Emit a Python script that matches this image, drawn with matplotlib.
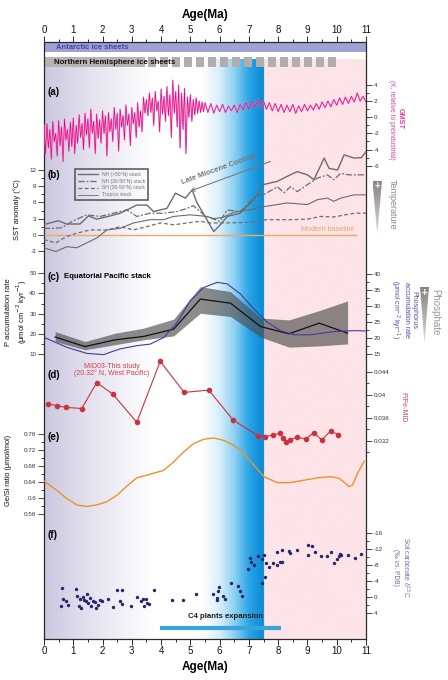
import numpy as np
import matplotlib.pyplot as plt
from matplotlib.patches import Rectangle, Polygon
from matplotlib.lines import Line2D
from matplotlib.colors import to_rgb

plt.rcParams['font.family'] = ['Liberation Sans', 'DejaVu Sans']
plt.rcParams['axes.unicode_minus'] = False

# ---------------- data ----------------
# (a) GMST, K relative to preindustrial
gmst_age = np.concatenate([np.arange(0, 5.501, 0.05), np.arange(5.6, 11.001, 0.1)])
gmst = [-1.0, -4.5, -0.8, -3.8, -1.5, -5.2, -0.5, -3.0, -2.0, -4.8,
        -0.4, -3.5, -1.2, -5.5, -0.2, -2.8, -1.5, -4.2, -0.6, -3.6,
        -0.1, -4.5, -1.0, -3.2, 0.3, -2.5, -0.8, -4.0, 0.5, -2.2,
        -0.2, -3.8, 1.0, -2.0, -0.5, -4.5, 0.4, -2.6, -0.3, -3.2,
        0.8, -2.0, 0.2, -4.8, 0.6, -1.8, -0.2, -3.0, 1.2, -1.5,
        0.5, -4.2, 1.0, -1.2, 0.2, -2.8, 1.5, -1.0, 0.4, -3.5,
        1.2, -0.8, 0.6, -2.5, 1.8, -1.2, 0.8, -1.8, 2.5, 0.5,
        2.2, 0.2, 3.0, 0.6, 2.4, -1.0, 3.2, 0.8, 2.0, -1.8,
        3.5, 0.4, 2.6, -0.5, 3.8, 0.2, 2.8, -2.5, 4.6, 0.5,
        3.2, -1.2, 4.0, -3.8, 3.0, -1.5, 3.6, -4.5, 2.5, 0.0,
        2.8, -0.5, 2.2, 0.3, 2.4, 0.5, 2.0, 0.6, 1.9, 0.7,
        1.8,
        0.6, 1.7, 0.5, 1.5, 0.7, 1.6, 0.6, 1.4, 0.8, 1.5,
        0.6, 1.6, 0.9, 1.8, 1.0, 2.0, 1.2, 2.2, 1.1, 2.0,
        1.0, 1.8, 0.8, 1.7, 0.7, 1.6, 0.6, 1.5, 0.7, 1.6,
        0.5, 1.4, 0.7, 1.6, 0.8, 1.5, 0.9, 1.7, 1.0, 1.9,
        1.2, 2.0, 1.3, 2.2, 1.5, 2.4, 1.6, 2.5, 1.7, 2.6,
        1.9, 3.0, 2.0, 2.6, 1.9]

# (b) SST anomaly stacks
nh50_age = [0, 0.49, 0.77, 1.23, 1.52, 1.8, 2.26, 2.6, 3.17, 3.52, 3.74, 4.2, 4.49, 4.83,
            5.06, 5.23, 5.8, 6.03, 6.26, 6.7, 7.17, 7.5, 7.97, 8.3, 8.65, 9.0, 9.22, 9.57,
            9.74, 10.03, 10.25, 10.6, 10.85, 11.0]
nh50 = [1.9, 2.6, 2.0, 2.0, 3.5, 2.9, 3.5, 4.0, 5.5, 5.5, 4.3, 4.9, 7.7, 6.8,
        8.3, 5.9, 0.6, 1.9, 3.4, 4.0, 6.5, 9.3, 9.9, 10.8, 11.7, 11.1, 10.2, 14.2,
        12.3, 12.0, 14.8, 14.2, 14.3, 15.4]
nh3050_age = [0, 0.3, 0.6, 1.0, 1.46, 1.92, 2.37, 2.83, 3.17, 3.63, 4.08, 4.54, 4.89, 5.1,
              5.5, 6.0, 6.26, 6.7, 7.28, 7.5, 7.97, 8.2, 8.42, 8.65, 9.0, 9.34, 9.68, 9.9,
              10.14, 10.4, 10.94]
nh3050 = [1.2, 1.2, 1.3, 2.6, 3.7, 3.4, 4.0, 4.6, 3.4, 4.0, 4.0, 4.3, 4.9, 5.4,
          3.5, 2.5, 4.6, 4.3, 7.4, 7.4, 8.9, 7.8, 8.9, 8.0, 9.3, 10.5, 11.1, 10.2,
          11.4, 11.1, 11.1]
sh3050_age = [0, 0.4, 0.78, 1.12, 1.57, 2.15, 2.6, 3.06, 3.5, 3.97, 4.43, 4.89, 5.34, 5.68,
              6.2, 7.0, 7.6, 8.5, 9.0, 9.45, 9.9, 10.6, 11.0]
sh3050 = [-0.9, -1.5, -0.3, 0.3, 0.9, 0.9, 1.5, 0.9, 1.5, 2.2, 1.85, 2.2, 2.5, 2.2,
          2.2, 2.3, 2.8, 2.8, 2.9, 3.4, 3.3, 4.0, 4.0]
trop_age = [0, 0.4, 0.78, 1.12, 1.46, 1.8, 2.15, 2.6, 3.06, 3.63, 4.08, 4.43, 5.0, 5.57,
            5.8, 6.1, 6.5, 7.0, 7.5, 7.97, 8.3, 9.0, 9.34, 9.68, 9.9, 10.14, 10.6, 11.0]
trop = [-2.4, -3.1, -2.2, -2.4, -1.5, -0.6, 0.9, 1.2, 2.2, 2.8, 2.8, 3.4, 3.7, 3.4,
        3.0, 3.2, 4.2, 4.6, 5.2, 5.6, 5.9, 5.6, 6.5, 6.8, 6.2, 6.8, 7.4, 7.4]
baseline = 0.0
baseline_end = 10.7

# (c) Equatorial Pacific P accumulation stack and phosphorus accumulation rate
eq_age = [0.38, 1.4, 2.43, 3.4, 4.43, 5.34, 6.37, 7.4, 8.37, 9.4, 10.37]
eq_mean = [18.4, 13.7, 17.0, 18.7, 22.3, 37.2, 35.2, 23.6, 20.0, 25.3, 20.3]
eq_upper = [21.1, 16.2, 20.3, 22.8, 27.3, 43.4, 40.9, 27.8, 26.9, 31.5, 36.3]
eq_lower = [16.2, 12.1, 14.6, 17.0, 19.0, 30.2, 28.6, 18.4, 13.4, 14.0, 15.0]
phos_age = [0, 0.78, 1.46, 2.03, 2.6, 3.17, 3.63, 4.1, 4.55, 5.0, 5.46, 5.92, 6.26, 6.71,
            7.17, 7.63, 8.08, 8.54, 9.1, 9.9, 10.6, 11.0]
phos = [20.2, 17.1, 15.2, 14.8, 16.6, 17.6, 18.1, 20.2, 24.9, 31.7, 35.8, 37.4, 36.9, 33.75,
        29.1, 24.9, 22.3, 21.0, 21.0, 22.0, 22.3, 22.2]

# (d) P/Fe MID03
pfe_age = [0.15, 0.43, 0.74, 1.29, 1.8, 2.35, 3.17, 3.97, 4.79, 5.63, 6.46, 7.3, 7.54, 7.83,
           8.06, 8.17, 8.28, 8.39, 8.65, 8.94, 9.22, 9.49, 9.79, 10.06]
pfe = [0.0384, 0.0381, 0.0378, 0.0376, 0.0421, 0.0401, 0.0352, 0.0458, 0.0404, 0.0408,
       0.0356, 0.0329, 0.0327, 0.0330, 0.0333, 0.0324, 0.0318, 0.0322, 0.0326, 0.0323,
       0.0334, 0.0321, 0.0337, 0.0330]

# (e) Ge/Si
gesi_age = [0, 0.43, 0.78, 1.12, 1.46, 1.8, 2.15, 2.5, 2.83, 3.17, 3.63, 4.09, 4.43, 4.77,
            5.11, 5.46, 5.8, 6.14, 6.48, 6.83, 7.17, 7.51, 7.97, 8.42, 8.88, 9.34, 9.79,
            10.08, 10.3, 10.42, 10.54, 10.71, 10.94]
gesi = [0.642, 0.619, 0.598, 0.582, 0.578, 0.582, 0.590, 0.607, 0.629, 0.650, 0.659, 0.669,
        0.690, 0.715, 0.736, 0.747, 0.750, 0.744, 0.732, 0.711, 0.682, 0.653, 0.638, 0.638,
        0.644, 0.650, 0.653, 0.649, 0.636, 0.628, 0.632, 0.661, 0.692]

# (f) soil carbonate d13C
soil_age = [0.58, 0.60, 0.66, 0.75, 0.83, 1.10, 1.14, 1.23, 1.21, 1.27, 1.32, 1.38, 1.44, 1.48,
            1.52, 1.58, 1.60, 1.67, 1.75, 1.78, 1.83, 1.90, 1.97, 2.20, 2.35, 2.51, 2.68, 2.60,
            2.68, 2.98, 3.17, 3.31, 3.38, 3.42, 3.48, 3.51, 3.60, 3.77, 4.37, 4.75, 5.19, 5.78,
            5.91, 5.92, 5.93, 5.97, 6.12, 6.18, 6.40, 6.62, 6.68, 6.77, 6.96, 7.05, 7.07, 7.17,
            7.32, 7.45, 7.51, 7.45, 7.55, 7.60, 7.68, 7.83, 7.95, 7.97, 8.06, 8.12, 8.14, 8.37,
            8.42, 8.65, 9.02, 9.03, 9.17, 9.26, 9.45, 9.66, 9.82, 9.89, 10.02, 10.08, 10.11,
            10.16, 10.37, 10.62, 10.82]
soil = [2.15, -2.4, 0.5, 1.07, 2.0, -2.07, -0.17, 0.5, 2.15, 2.7, 0.0, 0.66, 1.07, -0.8,
        1.5, 0.25, 2.15, 1.07, 1.3, 2.7, 1.9, 0.8, 1.07, 0.4, 2.56, -1.9, -1.9, 1.07,
        1.7, 2.07, 0.0, 1.07, 0.5, 2.15, 0.33, 1.5, 1.7, -1.9, 0.66, 0.66, -0.8, -0.74,
        0.66, 0.1, -1.5, -2.5, -0.17, 0.5, -3.55, -2.8, -1.57, -0.33, -6.9, -9.7, -8.8, -7.9,
        -10.1, -9.4, -10.5, -3.5, -5.0, -8.6, -7.4, -8.6, -8.0, -11.2, -8.8, -8.8, -11.7, -11.5,
        -10.9, -11.7, -13.0, -10.5, -12.6, -11.1, -10.1, -10.1, -11.3, -8.6, -9.4, -10.1, -10.7,
        -10.5, -10.5, -9.8, -10.7]
c4_start, c4_end = 3.95, 8.08

# ice sheet bars (Ma)
nh_solid_end = 3.45
nh_blocks = [3.55, 3.96, 4.37, 4.78, 5.19, 5.60, 6.01, 6.42, 6.83, 7.24, 7.65, 8.06,
             8.47, 8.88, 9.29, 9.70]
nh_block_w = 0.26
blue_end = 7.5

# ---------------- layout (pixels) ----------------
W, H = 448, 680
X0, X1, Y0, Y1 = 44, 366, 42, 639
L, WID = X0 / W, (X1 - X0) / W
INK = '#2a2a2a'

fig = plt.figure(figsize=(W / 100, H / 100), dpi=100)

# main frame with backgrounds
ax = fig.add_axes([L, 1 - Y1 / H, WID, (Y1 - Y0) / H])
ages = np.linspace(0, 11, 1101)
stops = [(0.0, '#cbc7e0'), (1.5, '#e3e1ee'), (3.7, '#ffffff'), (5.4, '#ffffff'),
         (6.0, '#d4eefa'), (6.5, '#8ccff2'), (7.0, '#29a3e5'), (7.5, '#078ad4')]
sa = [s[0] for s in stops]
sc = np.array([to_rgb(s[1]) for s in stops])
bg = np.stack([np.interp(ages, sa, sc[:, i]) for i in range(3)], axis=1)
bg[ages >= blue_end] = to_rgb('#fde4e8')
ax.imshow(bg[None, :, :], extent=(0, 11, Y1, 59), aspect='auto', zorder=0)
ax.set_xlim(0, 11)
ax.set_ylim(Y1, Y0)
ax.add_patch(Rectangle((0, 42), 11, 10, color='#a0a2d6', lw=0, zorder=1))
ax.add_patch(Rectangle((0, 57), nh_solid_end, 10.3, color='#b8b3b3', lw=0, zorder=1))
for b in nh_blocks:
    ax.add_patch(Rectangle((b, 57), nh_block_w, 10.3, color='#b3aeae', lw=0, zorder=1))
ax.text(0.41, 47.3, 'Antarctic ice sheets', color='#3d46a6', fontsize=5.5,
        fontweight='bold', va='center', zorder=2)
ax.text(0.35, 62.5, 'Northern Hemisphere ice sheets', color='#111111', fontsize=5.7,
        fontweight='bold', va='center', zorder=2)
ax.set_yticks([])
ax.set_xticks(range(12))
ax.set_xticks(np.arange(0.5, 11, 1), minor=True)
ax.tick_params(axis='x', which='both', top=True, labeltop=True, bottom=True,
               labelbottom=True, direction='out', labelsize=7, pad=1.2,
               width=0.7, color=INK, labelcolor='#111111')
ax.tick_params(axis='x', which='major', length=4)
ax.tick_params(axis='x', which='minor', length=2.2)
for s in ax.spines.values():
    s.set_linewidth(0.9)
    s.set_color(INK)


def panel(top, bot, y0, v0, y1, v1, side):
    a = fig.add_axes([L, 1 - bot / H, WID, (bot - top) / H])
    k = (v1 - v0) / (y1 - y0)
    a.set_ylim(v0 + k * (bot - y0), v0 + k * (top - y0))
    a.set_xlim(0, 11)
    a.patch.set_visible(False)
    for s in a.spines.values():
        s.set_visible(False)
    a.set_xticks([])
    if side == 'right':
        a.yaxis.tick_right()
    a.tick_params(axis='y', which='both', direction='out', labelsize=4.5, pad=1.5,
                  width=0.6, color=INK, labelcolor='#333333')
    a.tick_params(axis='y', which='major', length=4)
    a.tick_params(axis='y', which='minor', length=2.2)
    return a


def ticks(a, major, labels, minor):
    a.set_yticks(major)
    a.set_yticklabels(labels)
    a.set_yticks(minor, minor=True)


# (a) GMST
ax_a = panel(62, 172, 85, 4, 165.7, -6, 'right')
ax_a.plot(gmst_age, gmst, color='#f47cc2', lw=1.1, alpha=0.75)
ax_a.plot(gmst_age, gmst, color='#e3007f', lw=0.45)
ticks(ax_a, [-6, -4, -2, 0, 2, 4], ['-6', '-4', '-2', '0', '2', '4'], [-5, -3, -1, 1, 3])

# (b) SST
ax_b = panel(140, 262, 170, 12, 251, -3, 'left')
sst_col = '#6f6b6b'
ax_b.hlines(baseline, 0, baseline_end, color='#f2a862', lw=1.0)
ax_b.plot(nh50_age, nh50, color=sst_col, lw=1.0)
ax_b.plot(nh3050_age, nh3050, color=sst_col, lw=0.9, ls=(0, (5, 1.5, 1.5, 1.5)))
ax_b.plot(sh3050_age, sh3050, color=sst_col, lw=0.9, ls=(0, (3, 2)))
ax_b.plot(trop_age, trop, color=sst_col, lw=0.8)
ticks(ax_b, [-3, 0, 3, 6, 9, 12], ['-3', '0', '3', '6', '9', '12'], [-1.5, 1.5, 4.5, 7.5, 10.5])
ax_b.text(9.69, 0.35, 'Modern baseline', color='#eba55e', fontsize=5.2, ha='center', va='bottom')
ax_b.annotate('', xy=(5.0, 8.1), xytext=(7.74, 13.6),
              arrowprops=dict(arrowstyle='->', color='#7a7a7a', lw=0.8,
                              shrinkA=0, shrinkB=0, mutation_scale=6))
ax_b.text(5.99, 12.1, 'Late Miocene Cooling', rotation=20, rotation_mode='anchor',
          ha='center', va='center', fontsize=5.5, fontweight='bold', color='#7a7a7a')
handles = [Line2D([], [], color=sst_col, lw=1.0),
           Line2D([], [], color=sst_col, lw=0.9, ls=(0, (5, 1.5, 1.5, 1.5))),
           Line2D([], [], color=sst_col, lw=0.9, ls=(0, (3, 2))),
           Line2D([], [], color=sst_col, lw=0.6)]
names = ['NH (>50°N) stack', 'NH (30-50°N) stack', 'SH (30-50°N) stack', 'Tropics stack']
leg = ax_b.legend(handles, names, loc='upper left', bbox_to_anchor=(75 / W, 1 - 169 / H),
                  bbox_transform=fig.transFigure, borderaxespad=0, fontsize=3.6,
                  handlelength=4, handletextpad=0.8, labelspacing=0.35, borderpad=0.6,
                  fancybox=False, facecolor='none', edgecolor='#3a3a3a',
                  labelcolor='#777777')
leg.get_frame().set_linewidth(1.2)

# (c) Equatorial Pacific stack
ax_c = panel(262, 360, 273.3, 50, 354, 10, 'left')
ax_c.fill_between(eq_age, eq_lower, eq_upper, color='#4e4e4e', alpha=0.65, lw=0)
ax_c.plot(eq_age, eq_mean, color='#111111', lw=0.9)
ticks(ax_c, [10, 20, 30, 40, 50], ['10', '20', '30', '40', '50'], [15, 25, 35, 45])
ax_c2 = panel(262, 360, 274, 40, 354, 15, 'right')
ax_c2.plot(phos_age, phos, color='#3e3e9c', lw=0.8)
ticks(ax_c2, [15, 20, 25, 30, 35, 40], ['15', '20', '25', '30', '35', '40'],
      [17.5, 22.5, 27.5, 32.5, 37.5])

# (d) P/Fe
ax_d = panel(355, 458, 371.7, 0.044, 440.7, 0.032, 'right')
ax_d.plot(pfe_age, pfe, color='#c9323f', lw=0.8, marker='o', ms=3, mec='#c9323f')
ticks(ax_d, [0.032, 0.036, 0.040, 0.044], ['0.032', '0.036', '0.04', '0.044'],
      [0.030, 0.034, 0.038, 0.042])

# (e) Ge/Si
ax_e = panel(420, 522, 434, 0.76, 513.7, 0.56, 'left')
ax_e.plot(gesi_age, gesi, color='#ec922c', lw=1.0)
ticks(ax_e, [0.56, 0.60, 0.64, 0.68, 0.72, 0.76],
      ['0.56', '0.6', '0.64', '0.68', '0.72', '0.76'], [0.58, 0.62, 0.66, 0.70, 0.74])

# (f) soil carbonate
ax_f = panel(520, 639, 532.7, -16, 613.3, 4, 'right')
ax_f.scatter(soil_age, soil, s=6, color='#26266c', lw=0)
ax_f.hlines(7.6, c4_start, c4_end, color='#3ba3dc', lw=3)
ax_f.text((c4_start + c4_end) / 2 + 0.2, 4.9, 'C4 plants expansion', ha='center',
          va='center', fontsize=5.6, fontweight='bold', color='#1a1a1a')
ticks(ax_f, [-16, -12, -8, -4, 0, 4], ['-16', '-12', '-8', '-4', '0', '4'],
      [-14, -10, -6, -2, 2])


# ---------------- texts ----------------
def ftext(x, y, s, **kw):
    fig.text(x / W, 1 - y / H, s, ha='center', va='center', **kw)


ftext(205, 15, 'Age(Ma)', fontsize=8.5, fontweight='bold')
ftext(205, 667, 'Age(Ma)', fontsize=8.5, fontweight='bold')
for lab, y in [('(a)', 92), ('(b)', 175), ('(d)', 375), ('(e)', 437), ('(f)', 535)]:
    fig.text(47 / W, 1 - y / H, lab, fontsize=7, fontweight='bold', va='center')
fig.text(47 / W, 1 - 277 / H, '(c)', fontsize=7, fontweight='bold', va='center')
fig.text(64 / W, 1 - 277 / H, 'Equatorial Pacific stack', fontsize=5.6,
         fontweight='bold', va='center')
ftext(112, 370, 'MID03-This study\n(20.32° N, West Pacific)', fontsize=5,
      color='#d0404c', linespacing=1.05)

ftext(17, 210, 'SST anomaly (°C)', rotation=90, fontsize=5.4, color='#111111')
ftext(17, 312, 'P accumulation rate\n(μmol cm$^{-2}$ kyr$^{-1}$)', rotation=90,
      fontsize=5.5, color='#111111', linespacing=1.2)
ftext(9, 470, 'Ge/Si ratio (μmol/mol)', rotation=90, fontsize=5.3, color='#111111')

ftext(400.5, 119, 'GMST', rotation=-90, fontsize=5.2, fontweight='bold', color='#e0409e')
ftext(391, 120, '(K, relative to preindustrial)', rotation=-90, fontsize=4.8,
      color='#e0409e')
ftext(392, 204, 'Temperature', rotation=-90, fontsize=6.5, color='#8a8686')
ftext(403, 310, 'Phosphorus\naccumulation rate\n(μmol cm$^{-2}$ kyr$^{-1}$)',
      rotation=-90, fontsize=5, color='#5050a4', linespacing=1.15)
ftext(435, 312, 'Phosphate', rotation=-90, fontsize=7, color='#9a9696')
ftext(403, 407, 'P/Fe-MID', rotation=-90, fontsize=5, color='#d0404c')
ftext(402, 567, 'Soil carbonate δ$^{13}$C\n(‰ vs. PDB)', rotation=-90, fontsize=4.8,
      color='#7070a8', linespacing=1.2)


def wedge(x0, x1, top, bot):
    a = fig.add_axes([x0 / W, 1 - bot / H, (x1 - x0) / W, (bot - top) / H])
    a.set_xlim(0, 1)
    a.set_ylim(0, 1)
    a.axis('off')
    t = np.linspace(0, 1, 100)[:, None]
    c0, c1 = np.array(to_rgb('#8a8282')), np.array(to_rgb('#dcd8d8'))
    img = (c0 * (1 - t) + c1 * t)[:, None, :].repeat(2, axis=1)
    im = a.imshow(img, extent=(0, 1, 0, 1), aspect='auto', origin='upper')
    tri = Polygon([(0, 1), (1, 1), (0.5, 0)], closed=True, fc='none', ec='none')
    a.add_patch(tri)
    im.set_clip_path(tri)
    a.text(0.5, 0.9, '+', color='white', ha='center', va='center', fontsize=7,
           fontweight='bold')


wedge(372.5, 382, 181, 234)
wedge(420, 429, 287, 343)

fig.savefig('out.png', dpi=100)
